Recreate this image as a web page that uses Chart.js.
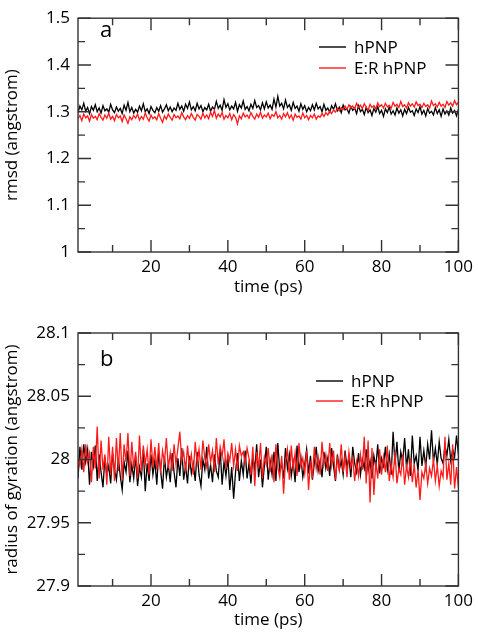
<!DOCTYPE html>
<html>
<head>
<meta charset="utf-8">
<script src="https://cdn.jsdelivr.net/npm/chart.js@4"></script>
<style>
  body { margin: 0; background: #fff; }
  .panel { position: absolute; left: 0; }
</style>
</head>
<body>
<div class="panel" style="top:0"><canvas id="rmsd" width="478" height="300"></canvas></div>
<div class="panel" style="top:300px"><canvas id="rgyr" width="478" height="332"></canvas></div>
<script>
// sampling of the trajectories (ps)
const tStart = 1;
const tStep = 0.5;

const seriesNames = ["hPNP", "E:R hPNP"];
const xMajor = [20, 40, 60, 80, 100];
const xMinor = [10, 30, 50, 70, 90];

// panel a: rmsd (angstrom)
const rmsdMajor = [1, 1.1, 1.2, 1.3, 1.4, 1.5];
const rmsdMinor = [1.05, 1.15, 1.25, 1.35, 1.45];
const rmsdWT = [
  1.298,1.312,1.304,1.318,1.301,1.309,1.296,1.311,1.303,1.315,
  1.300,1.308,1.297,1.313,1.302,1.306,1.299,1.316,1.304,1.298,
  1.310,1.301,1.307,1.296,1.314,1.303,1.320,1.300,1.309,1.297,
  1.305,1.299,1.312,1.302,1.317,1.300,1.306,1.296,1.311,1.303,
  1.298,1.309,1.301,1.313,1.299,1.306,1.315,1.302,1.310,1.300,
  1.308,1.303,1.318,1.305,1.312,1.301,1.316,1.307,1.321,1.304,
  1.311,1.302,1.318,1.306,1.313,1.300,1.309,1.304,1.316,1.301,
  1.310,1.305,1.322,1.307,1.314,1.303,1.326,1.309,1.317,1.304,
  1.312,1.306,1.320,1.301,1.315,1.308,1.323,1.305,1.311,1.302,
  1.316,1.307,1.324,1.309,1.313,1.304,1.319,1.306,1.321,1.308,
  1.314,1.305,1.327,1.310,1.333,1.312,1.318,1.306,1.325,1.309,
  1.315,1.303,1.320,1.307,1.312,1.301,1.317,1.305,1.313,1.300,
  1.309,1.302,1.315,1.304,1.318,1.306,1.311,1.300,1.316,1.303,
  1.308,1.299,1.313,1.305,1.317,1.302,1.310,1.298,1.314,1.304,
  1.306,1.297,1.311,1.303,1.308,1.296,1.313,1.300,1.305,1.294,
  1.309,1.298,1.304,1.292,1.307,1.299,1.311,1.296,1.303,1.290,
  1.306,1.298,1.310,1.295,1.302,1.293,1.308,1.297,1.304,1.291,
  1.305,1.296,1.309,1.299,1.302,1.292,1.306,1.298,1.311,1.295,
  1.303,1.291,1.307,1.297,1.301,1.293,1.309,1.296,1.304,1.290,
  1.306,1.295,1.302,1.293,1.308,1.297,1.303,1.291,1.305
];
const rmsdER = [
  1.285,1.292,1.281,1.295,1.287,1.291,1.280,1.294,1.286,1.290,
  1.283,1.296,1.288,1.282,1.293,1.286,1.297,1.284,1.290,1.281,
  1.294,1.287,1.291,1.279,1.293,1.285,1.275,1.289,1.283,1.292,
  1.286,1.295,1.282,1.290,1.284,1.297,1.287,1.280,1.293,1.285,
  1.289,1.283,1.296,1.286,1.277,1.291,1.284,1.295,1.288,1.282,
  1.294,1.287,1.291,1.285,1.298,1.289,1.283,1.292,1.286,1.296,
  1.288,1.282,1.294,1.290,1.284,1.297,1.287,1.293,1.285,1.299,
  1.290,1.303,1.286,1.295,1.289,1.298,1.284,1.292,1.287,1.296,
  1.283,1.294,1.288,1.274,1.291,1.285,1.297,1.289,1.293,1.286,
  1.298,1.290,1.284,1.295,1.288,1.299,1.286,1.293,1.289,1.297,
  1.285,1.294,1.290,1.300,1.287,1.292,1.284,1.296,1.289,1.298,
  1.286,1.293,1.282,1.295,1.288,1.291,1.284,1.297,1.287,1.292,
  1.283,1.292,1.287,1.295,1.284,1.291,1.288,1.296,1.290,1.298,
  1.293,1.301,1.296,1.304,1.299,1.307,1.302,1.309,1.305,1.312,
  1.305,1.315,1.308,1.312,1.306,1.318,1.309,1.314,1.307,1.317,
  1.310,1.303,1.316,1.309,1.313,1.306,1.319,1.311,1.315,1.308,
  1.318,1.310,1.314,1.307,1.320,1.312,1.316,1.309,1.322,1.311,
  1.315,1.308,1.319,1.312,1.317,1.310,1.321,1.313,1.316,1.309,
  1.318,1.311,1.315,1.308,1.323,1.313,1.317,1.310,1.320,1.312,
  1.316,1.309,1.322,1.314,1.319,1.312,1.324,1.315,1.320
];

// panel b: radius of gyration (angstrom)
const rgyrMajor = [27.9, 27.95, 28, 28.05, 28.1];
const rgyrMinor = [27.925, 27.975, 28.025, 28.075];
const rgyrWT = [
  27.985,28.010,27.992,28.012,27.998,28.008,27.980,28.006,27.995,28.011,
  27.983,28.004,27.990,27.978,28.002,27.988,27.995,27.981,28.005,27.992,
  27.984,28.001,27.987,27.976,27.998,27.990,28.007,27.982,27.996,27.985,
  28.003,27.979,27.994,27.986,28.008,27.975,27.997,27.983,28.004,27.988,
  27.999,27.980,28.006,27.991,27.977,28.002,27.986,27.996,27.982,28.005,
  27.990,27.978,28.001,27.987,28.009,27.984,27.995,27.981,28.003,27.989,
  27.997,27.983,28.006,27.988,27.979,28.000,27.992,28.010,27.985,27.996,
  27.982,28.004,27.991,27.986,28.008,27.980,27.998,27.987,28.002,27.976,
  27.994,27.969,27.990,28.005,27.983,27.999,27.988,28.007,27.985,27.997,
  27.981,28.003,27.992,28.012,27.986,28.000,27.978,27.995,28.010,27.984,
  27.999,27.988,28.006,27.983,28.013,27.991,27.997,27.985,28.009,27.993,
  28.004,27.987,27.998,27.982,28.011,27.990,28.002,27.986,27.996,28.008,
  27.989,28.003,27.984,27.997,28.010,27.991,27.999,27.986,28.006,27.993,
  28.001,27.987,28.009,27.995,27.983,28.004,27.992,27.999,27.988,28.007,
  27.994,28.002,27.986,28.010,27.997,27.990,28.005,27.988,28.000,27.993,
  28.008,27.991,27.999,27.985,28.003,27.994,28.012,27.989,28.001,27.995,
  28.010,27.992,28.004,27.988,28.022,27.996,28.014,27.990,28.006,27.998,
  28.017,27.993,28.008,27.987,28.019,27.997,28.003,27.991,28.018,27.995,
  28.007,27.994,28.012,28.000,28.023,27.998,28.009,27.996,28.014,28.001,
  27.997,28.011,28.003,28.016,27.999,28.008,28.002,28.019,28.004
];
const rgyrER = [
  28.000,27.995,28.008,27.990,28.012,27.998,28.005,27.982,28.010,27.993,
  28.026,27.985,28.015,27.992,28.004,27.980,28.018,27.988,28.010,27.983,
  28.017,27.991,28.021,27.984,28.012,27.998,28.021,27.987,28.014,27.993,
  28.006,27.985,28.019,27.990,28.011,27.996,28.008,27.988,28.016,27.994,
  28.010,27.992,28.013,27.989,28.007,27.998,28.017,27.993,28.005,27.991,
  28.012,27.996,28.009,28.022,27.999,28.006,27.990,28.011,27.995,28.004,
  27.988,28.014,27.997,28.008,27.992,28.015,28.001,27.994,28.012,27.998,
  28.007,27.990,28.017,27.996,28.010,28.002,28.016,27.993,28.005,27.999,
  28.013,27.995,28.008,27.991,28.011,28.003,28.006,27.997,28.009,28.001,
  27.988,28.010,27.979,28.006,27.993,28.013,27.985,28.002,27.996,28.009,
  27.990,28.004,27.982,28.012,27.994,27.986,28.003,27.973,27.998,28.008,
  27.984,28.011,27.992,28.005,27.987,28.013,27.995,28.001,27.989,28.007,
  27.976,27.999,27.985,28.010,27.993,28.002,27.988,28.014,27.996,28.004,
  27.991,28.013,27.995,28.007,27.984,28.001,27.992,28.012,27.990,28.003,
  27.986,28.006,27.994,28.001,27.983,27.998,27.987,28.004,27.992,28.018,
  27.981,28.015,27.966,28.009,27.972,27.998,27.985,28.008,27.988,28.002,
  27.990,28.011,27.983,27.996,27.986,28.006,27.981,27.993,27.988,28.004,
  27.980,27.995,27.986,28.001,27.982,27.996,27.978,27.992,27.968,27.990,
  27.985,27.997,27.981,27.993,27.987,28.000,27.983,27.995,27.979,27.991,
  27.986,28.018,27.984,27.997,27.980,28.012,27.977,27.994,27.978
];

Chart.defaults.font.family = "'Open Sans', sans-serif";
Chart.defaults.color = "#000";

function toPoints(values) {
  return values.map((v, i) => ({ x: tStart + i * tStep, y: v }));
}

// panel extras kept outside the option resolver
const panelInfo = {
  rmsd: { yMajor: rmsdMajor, yMinor: rmsdMinor, letter: "a", letterX: 100, letterY: 31, legendX: 319, legendY: 47, legendDy: 21 },
  rgyr: { yMajor: rgyrMajor, yMinor: rgyrMinor, letter: "b", letterX: 100, letterY: 60, legendX: 316, legendY: 81, legendDy: 20 }
};

// frame, inward ticks, panel letter and legend
const framePlugin = {
  id: "frame",
  afterDraw(chart) {
    const info = panelInfo[chart.canvas.id];
    const { ctx, chartArea: a } = chart;
    const x = chart.scales.x, y = chart.scales.y;
    ctx.save();
    ctx.strokeStyle = "#333";
    ctx.lineWidth = 1.4;
    ctx.strokeRect(a.left, a.top, a.right - a.left, a.bottom - a.top);

    function tickX(v, len) {
      const px = x.getPixelForValue(v);
      ctx.beginPath();
      ctx.moveTo(px, a.bottom); ctx.lineTo(px, a.bottom - len);
      ctx.moveTo(px, a.top); ctx.lineTo(px, a.top + len);
      ctx.stroke();
    }
    function tickY(v, len) {
      const py = y.getPixelForValue(v);
      ctx.beginPath();
      ctx.moveTo(a.left, py); ctx.lineTo(a.left + len, py);
      ctx.moveTo(a.right, py); ctx.lineTo(a.right - len, py);
      ctx.stroke();
    }
    for (const v of xMajor) tickX(v, 12);
    for (const v of xMinor) tickX(v, 7);
    for (const v of info.yMajor) tickY(v, 13);
    for (const v of info.yMinor) tickY(v, 7);

    ctx.fillStyle = "#000";
    ctx.font = "22px 'Open Sans', sans-serif";
    ctx.textBaseline = "middle";
    ctx.fillText(info.letter, info.letterX, info.letterY);

    ctx.font = "17px 'Open Sans', sans-serif";
    seriesNames.forEach((name, i) => {
      const ly = info.legendY + i * info.legendDy;
      ctx.strokeStyle = chart.data.datasets[i].borderColor;
      ctx.lineWidth = 1.4;
      ctx.beginPath();
      ctx.moveTo(info.legendX, ly);
      ctx.lineTo(info.legendX + 27, ly);
      ctx.stroke();
      ctx.fillText(name, info.legendX + 35, ly + 1);
    });
    ctx.restore();
  }
};

function makeChart(id, wt, er, yMin, yMax, yMajor, yTitle, pad, xHeight, xTitlePad) {
  return new Chart(document.getElementById(id), {
    type: "line",
    data: {
      datasets: [
        { label: seriesNames[0], data: toPoints(wt), borderColor: "#000", borderWidth: 1.3, order: 1 },
        { label: seriesNames[1], data: toPoints(er), borderColor: "#ff1a1a", borderWidth: 1.3, order: 0 }
      ]
    },
    options: {
      responsive: false,
      animation: false,
      events: [],
      layout: { padding: pad, autoPadding: false },
      elements: { point: { radius: 0 }, line: { tension: 0 } },
      plugins: { legend: { display: false }, tooltip: { enabled: false } },
      scales: {
        x: {
          type: "linear", min: 1, max: 100,
          grid: { display: false, drawTicks: false },
          border: { display: false },
          afterBuildTicks: s => { s.ticks = xMajor.map(v => ({ value: v })); },
          afterFit: s => { s.height = xHeight; },
          ticks: { font: { size: 17 }, padding: 5, maxRotation: 0 },
          title: { display: true, text: "time (ps)", font: { size: 17 }, padding: { top: 0, bottom: xTitlePad } }
        },
        y: {
          type: "linear", min: yMin, max: yMax,
          grid: { display: false, drawTicks: false },
          border: { display: false },
          afterBuildTicks: s => { s.ticks = yMajor.map(v => ({ value: v })); },
          afterFit: s => { s.width = 78; },
          ticks: { font: { size: 17 }, padding: 8, callback: v => String(+v.toFixed(3)) },
          title: { display: true, text: yTitle, font: { size: 17 }, padding: { top: 2, bottom: 0 } }
        }
      }
    },
    plugins: [framePlugin]
  });
}

makeChart("rmsd", rmsdWT, rmsdER, 1, 1.5, rmsdMajor, "rmsd (angstrom)",
  { top: 8, right: 17, left: 0, bottom: 0 }, 48, 3);

makeChart("rgyr", rgyrWT, rgyrER, 27.9, 28.1, rgyrMajor, "radius of gyration (angstrom)",
  { top: 33, right: 19, left: 0, bottom: 0 }, 46, 2);
</script>
</body>
</html>
